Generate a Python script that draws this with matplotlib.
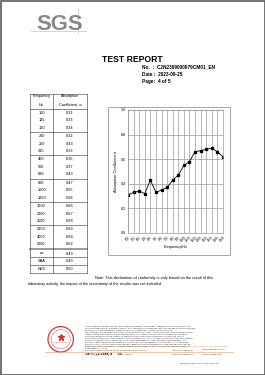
"""
Recreate the SGS test report page (page 4 of 5) with the absorption table and curve.
"""

import textwrap
import matplotlib.pyplot as plt
from matplotlib.patches import Rectangle, Circle

# Data of the report
frequencies = ['100', '125', '160', '200', '250', '315', '400', '500', '630',
               '800', '1000', '1250', '1600', '2000', '2500', '3150', '4000', '5000']
alpha = [0.31, 0.33, 0.34, 0.32, 0.43, 0.33, 0.35, 0.37, 0.43,
         0.47, 0.55, 0.58, 0.66, 0.67, 0.68, 0.69, 0.66, 0.62]
summary_names = ['\u03b1$_s$', 'SAA', 'NRC']
summary_values = [0.49, 0.49, 0.50]

report_no = 'C2N2309000079CM01_EN'
report_date = '2023-09-25'
report_page = '4 of 5'

plt.rcParams['font.family'] = ['Liberation Sans', 'Noto Sans CJK SC', 'DejaVu Sans']

W, H = 265, 375
fig = plt.figure(figsize=(W / 100, H / 100), dpi=100, facecolor='white')

# page axes in pixel coordinates
pg = fig.add_axes([0, 0, 1, 1])
pg.set_xlim(0, W)
pg.set_ylim(H, 0)
pg.axis('off')

# page border
pg.add_patch(Rectangle((0.5, 0.5), W - 1, H - 1, fill=False, ec='#5a5a5a', lw=1.2))

# ---------- SGS logo ----------
pg.text(60, 30, 'SGS', ha='center', va='baseline', fontsize=15.8, fontweight='bold',
        color='#8a8a8a', family=['Liberation Sans Narrow', 'Liberation Sans'])
pg.plot([31, 86], [30.5, 30.5], color='#d8cdb8', lw=0.6)
pg.plot([78, 78], [9, 34], color='#d8cdb8', lw=0.6)

# ---------- header ----------
pg.text(132, 59, 'TEST REPORT', ha='center', va='center', fontsize=6.2, fontweight='bold')
pg.text(142, 67, 'No.  :  ' + report_no, ha='left', va='center', fontsize=3.4, fontweight='bold')
pg.text(142, 74, 'Date :  ' + report_date, ha='left', va='center', fontsize=3.4, fontweight='bold')
pg.text(142, 81.3, 'Page:  ' + report_page, ha='left', va='center', fontsize=3.4, fontweight='bold')

# ---------- table ----------
tx0, tx1, tx2 = 30, 53, 87
ty_top = 94
row_h = 7.45
sum_h = 7.8
fs_tab = 2.8
pg.text((tx0 + tx1) / 2, 96.5, 'Frequency', ha='center', va='center', fontsize=fs_tab)
pg.text((tx0 + tx1) / 2, 104.5, 'Hz', ha='center', va='center', fontsize=fs_tab)
pg.text((tx1 + tx2) / 2, 96.5, 'Absorption', ha='center', va='center', fontsize=fs_tab)
pg.text((tx1 + tx2) / 2, 104.5, 'Coefficient, \u03b1', ha='center', va='center', fontsize=fs_tab)
hlines = [ty_top, 109]

y = 109
for i, (f, a) in enumerate(zip(frequencies, alpha)):
    if i > 0 and i % 3 == 0:
        y += 1
        hlines.append(y - 0.5)
    yc = y + row_h / 2
    pg.text((tx0 + tx1) / 2, yc, f, ha='center', va='center', fontsize=fs_tab)
    pg.text((tx1 + tx2) / 2, yc, f'{a:.2f}', ha='center', va='center', fontsize=fs_tab)
    y += row_h
pg.plot([tx0, tx2], [y + 0.8, y + 0.8], color='#9a9a9a', lw=1.4)
y += 1.6
for name, v in zip(summary_names, summary_values):
    yc = y + sum_h / 2
    pg.text((tx0 + tx1) / 2, yc, name, ha='center', va='center', fontsize=fs_tab)
    pg.text((tx1 + tx2) / 2, yc, f'{v:.2f}', ha='center', va='center', fontsize=fs_tab)
    y += sum_h
    hlines.append(y)
ty_bot = y
for yy in hlines:
    pg.plot([tx0, tx2], [yy, yy], color='#333333', lw=0.4)
for xx in (tx0, tx1, tx2):
    pg.plot([xx, xx], [ty_top, ty_bot], color='#333333', lw=0.4)

# ---------- chart frame ----------
pg.add_patch(Rectangle((108, 107), 122, 148, fill=False, ec='#9a9a9a', lw=0.6))

ax = fig.add_axes([128 / W, 1 - 233 / H, (223 - 128) / W, (233 - 110) / H])
x = range(len(frequencies))
ax.plot(x, alpha, color='black', lw=0.6, marker='s', markersize=1.4)
ax.set_xlim(0, len(frequencies) - 1)
ax.set_ylim(0, 1.0)
ax.set_yticks([0.0, 0.2, 0.4, 0.6, 0.8, 1.0])
ax.set_yticklabels(['0.0', '0.2', '0.4', '0.6', '0.8', '1.0'], fontsize=2.6)
ax.set_xticks(list(x))
ax.set_xticklabels(frequencies, fontsize=2.1, rotation=45, ha='right', rotation_mode='anchor')
ax.grid(True, color='#9a9a9a', lw=0.5)
ax.tick_params(length=0, pad=1.5)
for s in ax.spines.values():
    s.set_color('#9a9a9a')
    s.set_linewidth(0.5)
ax.set_xlabel('Frequency/Hz', fontsize=2.8, labelpad=2)
ax.set_ylabel('Absorption Coefficient \u03b1', fontsize=2.8, labelpad=2)

# ---------- note ----------
pg.text(95, 277.5, 'Note: This declaration of conformity is only based on the result of this',
        ha='left', va='center', fontsize=2.75)
pg.text(28, 284.5, 'laboratory activity, the impact of the uncertainty of the results was not included.',
        ha='left', va='center', fontsize=2.75)

# ---------- footer ----------
seal_c = (60.7, 339.3)
pg.add_patch(Circle(seal_c, 12.7, fill=False, ec='#d03a3a', lw=0.9))
pg.add_patch(Circle(seal_c, 9.6, fill=False, ec='#d03a3a', lw=0.3))
pg.plot(seal_c[0], seal_c[1] - 2, marker='*', markersize=5, color='#d03a3a')
pg.text(seal_c[0], seal_c[1] + 3.5, 'INSPECTION SEAL', ha='center', va='center',
        fontsize=1.3, color='#d03a3a')

disclaimer = ("Unless otherwise agreed in writing, this document is issued by the Company subject to its "
              "General Conditions of Service printed overleaf, available on request or accessible at "
              "http://www.sgs.com/en/Terms-and-Conditions.aspx and, for electronic format documents, subject to "
              "Terms and Conditions for Electronic Documents at http://www.sgs.com/en/Terms-and-Conditions/"
              "Terms-e-Document.aspx. Attention is drawn to the limitation of liability, indemnification and "
              "jurisdiction issues defined therein. Any holder of this document is advised that information "
              "contained hereon reflects the Company's findings at the time of its intervention only and within "
              "the limits of Client's instructions, if any. The Company's sole responsibility is to its Client and "
              "this document does not exonerate parties to a transaction from exercising all their rights and "
              "obligations under the transaction documents. This document cannot be reproduced except in full, "
              "without prior written approval of the Company. Any unauthorized alteration, forgery or "
              "falsification of the content or appearance of this document is unlawful and offenders may be "
              "prosecuted to the fullest extent of the law. Unless otherwise stated the results shown in this "
              "test report refer only to the sample(s) tested.")
for i, line in enumerate(textwrap.wrap(disclaimer, 118)):
    pg.text(85, 326.5 + i * 1.95, line, ha='left', va='center', fontsize=1.5, color='#2a2a2a')
pg.text(85, 346.5, 'Attention: To check the authenticity of testing /inspection report & certificate, '
        'please contact us at telephone: (86-755) 8307 1443, or email: CN.Doccheck@sgs.com',
        ha='left', va='center', fontsize=1.45, color='#c87a3a')

pg.plot([45, 233], [351.5, 351.5], color='#e0a070', lw=0.4)
pg.plot([83, 83], [349, 360], color='#c0c0c0', lw=0.3)
pg.text(85, 350, 'No.1 West Road, Tianhang Street, Changshu, China  215021',
        ha='left', va='center', fontsize=1.6, color='#333333')
pg.text(85, 354.5, '中国·常熟·天航街道西路1号        邮编：215021',
        ha='left', va='center', fontsize=1.6, color='#333333')
pg.text(172, 350, 't (86-512) 6268 0000', ha='left', va='center', fontsize=1.6, color='#333333')
pg.text(172, 354.5, 'f (86-512) 6268 0001', ha='left', va='center', fontsize=1.6, color='#333333')
pg.text(202, 350, 'www.sgsgroup.com.cn', ha='left', va='center', fontsize=1.6, color='#333333')
pg.text(202, 354.5, 'sgs.china@sgs.com', ha='left', va='center', fontsize=1.6, color='#333333')
pg.text(220, 363.5, 'Member of the SGS Group (SGS SA)', ha='right', va='center',
        fontsize=1.7, color='#333333')

plt.savefig('out.png', dpi=100, facecolor='white')
plt.close()
